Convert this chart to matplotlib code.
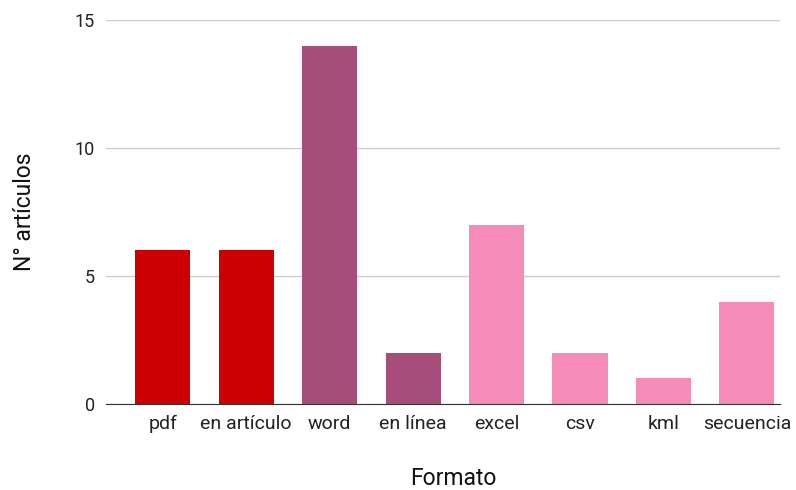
import matplotlib.pyplot as plt

formatos = ['pdf', 'en artículo', 'word', 'en línea', 'excel', 'csv', 'kml', 'secuencia']
articulos = [6, 6, 14, 2, 7, 2, 1, 4]
colores = ['#cc0000', '#cc0000', '#a64d79', '#a64d79',
           '#f48bb9', '#f48bb9', '#f48bb9', '#f48bb9']
y_ticks = [0, 5, 10, 15]

plt.rcParams['font.family'] = ['Roboto', 'DejaVu Sans']

fig = plt.figure(figsize=(7.96, 4.90), dpi=100)
ax = fig.add_axes([0.1332, 0.1755, 0.847, 0.7835])

x = list(range(len(formatos)))
ax.bar(x, articulos, width=0.66, color=colores, zorder=3)

ax.set_ylim(0, 15)
ax.set_xlim(-0.68, 7.4)
ax.set_yticks(y_ticks)
ax.set_xticks(x)
ax.set_xticklabels(formatos)
ax.grid(axis='y', color='#cccccc', linewidth=1, zorder=0)
ax.tick_params(axis='both', length=0, labelcolor='#222222')
ax.tick_params(axis='x', labelsize=14, pad=8)
ax.tick_params(axis='y', labelsize=13, pad=8)

for s in ['top', 'right', 'left']:
    ax.spines[s].set_visible(False)
ax.spines['bottom'].set_color('#333333')
ax.spines['bottom'].set_zorder(4)

ax.set_ylabel('N° artículos', fontsize=16.5, color='#111111', labelpad=28)
ax.set_xlabel('Formato', fontsize=16.5, color='#111111')
ax.xaxis.set_label_coords(0.515, -0.165)

fig.savefig('out.png', dpi=100)
